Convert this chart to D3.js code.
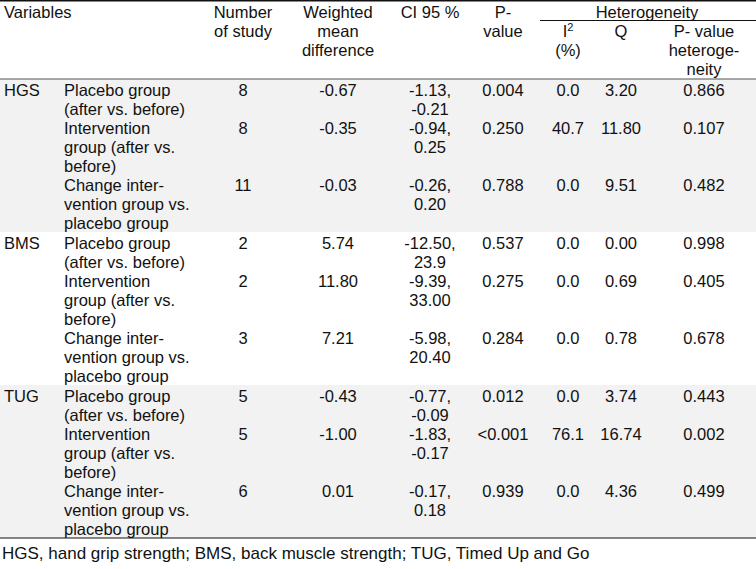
<!DOCTYPE html>
<html>
<head>
<meta charset="utf-8">
<script src="https://cdn.jsdelivr.net/npm/d3@7/dist/d3.min.js"></script>
<style>
  html, body { margin: 0; padding: 0; background: #fff; }
  svg text { font-family: "Liberation Sans", Arial, sans-serif; fill: #111; }
</style>
</head>
<body>
<div id="chart"></div>
<script>
// ---------- data ----------
const variables = ["HGS", "BMS", "TUG"];
const comparisons = [
  ["Placebo group", "(after vs. before)"],
  ["Intervention", "group (after vs.", "before)"],
  ["Change inter-", "vention group vs.", "placebo group"]
];
const nStudy = [8, 8, 11, 2, 2, 3, 5, 5, 6];
const wmd    = ["-0.67", "-0.35", "-0.03", "5.74", "11.80", "7.21", "-0.43", "-1.00", "0.01"];
const ciLow  = ["-1.13", "-0.94", "-0.26", "-12.50", "-9.39", "-5.98", "-0.77", "-1.83", "-0.17"];
const ciHigh = ["-0.21", "0.25", "0.20", "23.9", "33.00", "20.40", "-0.09", "-0.17", "0.18"];
const pValue = ["0.004", "0.250", "0.788", "0.537", "0.275", "0.284", "0.012", "<0.001", "0.939"];
const i2     = ["0.0", "40.7", "0.0", "0.0", "0.0", "0.0", "0.0", "76.1", "0.0"];
const qStat  = ["3.20", "11.80", "9.51", "0.00", "0.69", "0.78", "3.74", "16.74", "4.36"];
const pHet   = ["0.866", "0.107", "0.482", "0.998", "0.405", "0.678", "0.443", "0.002", "0.499"];
const headers = [
  { key: "var",  lines: ["Variables"], anchor: "start", row: 0 },
  { key: "n",    lines: ["Number", "of study"], row: 0 },
  { key: "wmd",  lines: ["Weighted", "mean", "difference"], row: 0 },
  { key: "ci",   lines: ["CI 95 %"], row: 0 },
  { key: "p",    lines: ["P-", "value"], row: 0 },
  { key: "i2",   lines: ["I2", "(%)"], row: 1 },
  { key: "q",    lines: ["Q"], row: 1 },
  { key: "ph",   lines: ["P- value", "heteroge-", "neity"], row: 1 }
];
const spanHeader = "Heterogeneity";
const footnote = "HGS, hand grip strength; BMS, back muscle strength; TUG, Timed Up and Go";

// ---------- layout ----------
const W = 756, H = 569, FS = 16.5, LH = 19;
const colX = { var: 4, sub: 64, n: 243, wmd: 338, ci: 430, p: 503, i2: 568, q: 621, ph: 704 };
const headerRuleY = 79, blockH = 153, tableBottom = headerRuleY + blockH * 3;
const lineStart = [0, 2, 5]; // line index of each comparison within a block

const svg = d3.select("#chart").append("svg").attr("width", W).attr("height", H);

// block scale
const yBlock = d3.scaleBand().domain(variables).range([headerRuleY, tableBottom]).paddingInner(0);
// line scale within a block (center of text line)
const yLine = d3.scaleLinear().domain([0, 1]).range([11.5, 11.5 + LH]);
const baseOff = 0.36 * FS;

// shading
svg.selectAll("rect.shade").data(variables.filter((d, i) => i % 2 === 0))
  .join("rect").attr("class", "shade")
  .attr("x", 0).attr("width", W)
  .attr("y", d => yBlock(d)).attr("height", yBlock.bandwidth())
  .attr("fill", "#f2f2f2");

// rules
svg.append("line").attr("x1", 0).attr("x2", W).attr("y1", 0.75).attr("y2", 0.75).attr("stroke", "#111").attr("stroke-width", 1.5);
svg.append("line").attr("x1", 0).attr("x2", W).attr("y1", headerRuleY).attr("y2", headerRuleY).attr("stroke", "#555").attr("stroke-width", 1.2);
svg.append("line").attr("x1", 0).attr("x2", W).attr("y1", tableBottom).attr("y2", tableBottom).attr("stroke", "#111").attr("stroke-width", 1.2);
svg.append("line").attr("x1", 540).attr("x2", W).attr("y1", 20.5).attr("y2", 20.5).attr("stroke", "#111").attr("stroke-width", 1.2);

// header text
const hLine = d3.scaleLinear().domain([0, 1]).range([12, 12 + LH]);
svg.append("text").attr("x", 647).attr("y", hLine(0) + baseOff)
  .attr("text-anchor", "middle").attr("font-size", FS).text(spanHeader);
headers.forEach(h => {
  h.lines.forEach((ln, i) => {
    const t = svg.append("text")
      .attr("x", colX[h.key]).attr("y", hLine(h.row + i) + baseOff)
      .attr("text-anchor", h.anchor || "middle").attr("font-size", FS);
    if (h.key === "i2" && i === 0) {
      t.append("tspan").text("I");
      t.append("tspan").attr("font-size", 11).attr("dy", -6).text("2");
    } else {
      t.text(ln);
    }
  });
});

// ---------- body ----------
variables.forEach((v, gi) => {
  const top = yBlock(v);
  svg.append("text").attr("x", colX.var).attr("y", top + yLine(0) + baseOff)
    .attr("font-size", FS).text(v);
  comparisons.forEach((lines, ci) => {
    const k = gi * 3 + ci;
    const l0 = lineStart[ci];
    lines.forEach((ln, li) => {
      svg.append("text").attr("x", colX.sub).attr("y", top + yLine(l0 + li) + baseOff)
        .attr("font-size", FS).text(ln);
    });
    const yy = top + yLine(l0) + baseOff;
    const cells = [
      ["n", nStudy[k]], ["wmd", wmd[k]], ["p", pValue[k]],
      ["i2", i2[k]], ["q", qStat[k]], ["ph", pHet[k]]
    ];
    cells.forEach(([c, val]) => {
      svg.append("text").attr("x", colX[c]).attr("y", yy)
        .attr("text-anchor", "middle").attr("font-size", FS).text(val);
    });
    svg.append("text").attr("x", colX.ci).attr("y", yy)
      .attr("text-anchor", "middle").attr("font-size", FS).text(ciLow[k] + ",");
    svg.append("text").attr("x", colX.ci).attr("y", top + yLine(l0 + 1) + baseOff)
      .attr("text-anchor", "middle").attr("font-size", FS).text(ciHigh[k]);
  });
});

svg.append("text").attr("x", 2).attr("y", 553 + baseOff).attr("font-size", 17).text(footnote);
</script>
</body>
</html>
